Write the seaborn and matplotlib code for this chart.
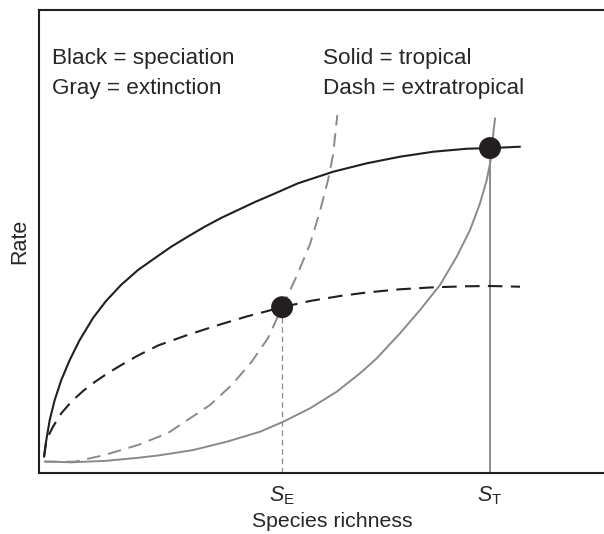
import matplotlib
matplotlib.use("Agg")
import matplotlib.pyplot as plt
import seaborn as sns

# curves (x = species richness, y = rate, arbitrary units)
spec_trop_x = [1.11, 1.62, 2.37, 3.48, 4.94, 6.81, 9.02, 11.97, 14.86, 18.18, 21.95, 25.72, 29.33, 33.04,
               36.74, 40.35, 44.12, 47.89, 51.51, 57.43, 65.25, 72.66, 80.04, 87.43, 94.84, 100.4, 106.65]
spec_trop_y = [3.48, 7.09, 11.41, 15.74, 20.06, 24.38, 28.71, 33.46, 37.14, 40.60, 43.84, 46.43, 48.88, 51.08,
               53.20, 55.08, 56.81, 58.54, 60.05, 62.58, 65.09, 66.90, 68.33, 69.41, 70.05, 70.20, 70.49]

spec_extra_x = [1.11, 1.62, 3.10, 4.94, 7.16, 9.76, 12.35, 15.30, 18.25, 21.95, 26.39, 32.59, 39.40, 46.05,
                53.90, 60.09, 66.74, 72.66, 80.04, 87.43, 94.84, 100.0, 106.65]
spec_extra_y = [3.42, 7.09, 9.97, 12.86, 15.37, 17.68, 19.63, 21.57, 23.30, 25.36, 27.52, 29.68, 31.84, 33.79,
                35.80, 37.14, 38.22, 38.98, 39.67, 40.10, 40.32, 40.38, 40.23]

ext_trop_x = [1.26, 7.16, 14.57, 21.95, 26.83, 34.22, 41.62, 49.00, 54.17, 60.09, 66.01, 71.18, 74.88, 80.04,
              84.48, 88.91, 92.61, 95.57, 97.78, 99.27, 100.15, 100.38, 100.73, 101.11]
ext_trop_y = [2.44, 2.27, 2.57, 3.24, 3.80, 4.93, 6.72, 8.88, 11.05, 13.94, 17.53, 21.51, 24.75, 30.16,
              35.19, 40.60, 46.71, 52.49, 58.26, 63.29, 67.62, 70.15, 73.39, 76.63]

ext_extra_x = [1.26, 7.92, 14.57, 21.95, 28.60, 37.92, 42.73, 47.16, 50.78, 53.90, 57.14, 60.09, 62.31,
               64.08, 65.19, 66.14]
ext_extra_y = [2.40, 2.40, 3.85, 6.01, 8.60, 14.66, 18.98, 24.02, 29.14, 35.80, 42.54, 49.46, 56.59,
               63.29, 68.68, 77.33]

# equilibrium points
eq_x = [53.9, 100.0]
eq_y = [35.8, 70.2]
eq_labels = ["$S_\\mathrm{E}$", "$S_\\mathrm{T}$"]

black = "#231f20"
gray = "#8a8a8a"

sns.set_style("white")
plt.rcParams["font.family"] = ["Liberation Sans", "DejaVu Sans"]
plt.rcParams["mathtext.fontset"] = "custom"
plt.rcParams["mathtext.rm"] = "Liberation Sans"
plt.rcParams["mathtext.it"] = "Liberation Sans:italic"

fig = plt.figure(figsize=(6.04, 5.34), dpi=100)
ax = fig.add_axes([0.0646, 0.1146, 0.9707, 0.8663])

dash = (0, (7, 4))
sns.lineplot(x=ext_trop_x, y=ext_trop_y, color=gray, lw=1.4, sort=False, estimator=None, ax=ax)
sns.lineplot(x=ext_extra_x, y=ext_extra_y, color=gray, lw=1.4, linestyle=dash, sort=False, estimator=None, ax=ax)
sns.lineplot(x=spec_trop_x, y=spec_trop_y, color=black, lw=1.5, sort=False, estimator=None, ax=ax)
sns.lineplot(x=spec_extra_x, y=spec_extra_y, color=black, lw=1.5, linestyle=dash, sort=False, estimator=None, ax=ax)

# drop lines to the x axis
ax.vlines(eq_x[0], 0, eq_y[0], color=gray, lw=0.9, linestyles=(0, (4.5, 3)), zorder=1)
ax.vlines(eq_x[1], 0, eq_y[1], color=gray, lw=1.4, zorder=1)

sns.scatterplot(x=eq_x, y=eq_y, s=250, color=black, edgecolor="none", zorder=5, ax=ax)

ax.text(2.9, 89.5, "Black = speciation", fontsize=16.2, va="center")
ax.text(2.9, 83.0, "Gray = extinction", fontsize=16.2, va="center")
ax.text(63.0, 89.5, "Solid = tropical", fontsize=16.2, va="center")
ax.text(63.0, 83.0, "Dash = extratropical", fontsize=16.2, va="center")

ax.set_xlim(0, 130)
ax.set_ylim(0, 100)
ax.set_xticks(eq_x)
ax.set_xticklabels(eq_labels, fontsize=15.5)
ax.set_yticks([])
ax.tick_params(axis="x", length=0, pad=8)
ax.set_xlabel("Species richness", fontsize=15.3, labelpad=4)
ax.set_ylabel("Rate", fontsize=15.5, labelpad=6)
for sp in ax.spines.values():
    sp.set_color(black)
    sp.set_linewidth(1.5)

plt.savefig("out.png", dpi=100)
